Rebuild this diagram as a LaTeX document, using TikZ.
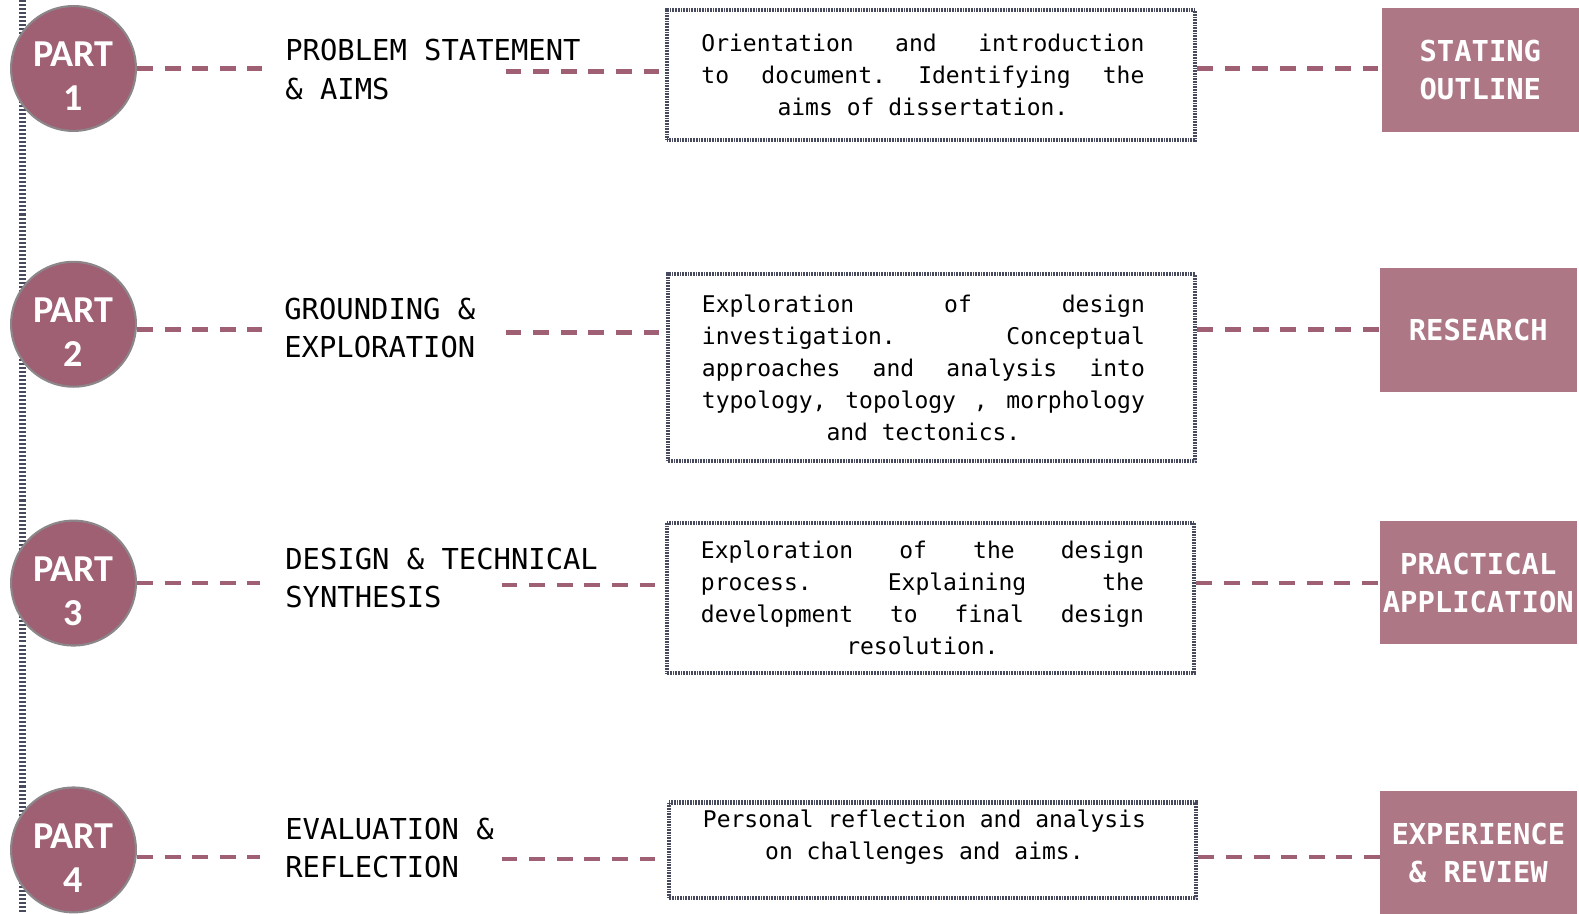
\documentclass[tikz,border=0pt]{standalone}
\usepackage{fontspec}
\setmainfont{DejaVu Sans Mono}
\newfontfamily\partfont{Carlito}
\usetikzlibrary{positioning}

\definecolor{plum}{RGB}{158,96,114}
\definecolor{plumlight}{RGB}{173,119,134}
\definecolor{rimgray}{RGB}{140,134,138}
\definecolor{hatch}{RGB}{70,74,92}

% one line of a box, spread over the full width / centred
\newlength{\boxtext}
\setlength{\boxtext}{8.8cm}
\newcommand{\fullline}[1]{\hbox to \linewidth{\hbox to \boxtext{\spaceskip=0.602em plus 1fil\xspaceskip=0.602em plus 1fil\relax#1}\hfil}}
\newcommand{\midline}[1]{\hbox to \linewidth{\hbox to \boxtext{\spaceskip=0.602em\xspaceskip=0.602em\relax\hfil#1\hfil}\hfil}}

\begin{document}
\begin{tikzpicture}[x=0.02cm, y=-0.02cm,
	part/.style={circle, fill=plum, draw=rimgray, line width=1.2pt, minimum size=2.48cm, inner sep=0pt,
		text=white, align=center, font=\partfont\bfseries\fontsize{21.5}{25}\selectfont},
	heading/.style={anchor=west, inner sep=0pt, align=left, font=\fontsize{16.3}{21.5}\selectfont},
	summary/.style={draw=hatch, line width=2.4pt, dash pattern=on 0.45pt off 0.45pt,
		minimum width=10.48cm, text width=9.12cm, inner sep=0pt, font=\fontsize{13}{18.1}\selectfont},
	theme/.style={fill=plumlight, text=white, minimum width=3.92cm, minimum height=2.46cm, inner sep=0pt,
		align=center, font=\bfseries\fontsize{16.3}{21.5}\selectfont},
	link/.style={plum, line width=2.6pt, dash pattern=on 9pt off 6.6pt}]

	\useasboundingbox (0,0) rectangle (1568,907);
	% ladder line down the left edge
	\foreach \k in {0,...,226}
		\fill[hatch] (19,4*\k) rectangle (26,4*\k+2);

	% part 1
	\node[part] (p1) at (73,68) {\rule{0pt}{23pt}PART\\1};
	\node[heading] (h1) at (283,69) {PROBLEM STATEMENT\\\& AIMS};
	\node[summary, minimum height=2.58cm] (s1) at (924.5,74.5) {%
		\fullline{Orientation and introduction}
		\fullline{to document. Identifying the}
		\midline{aims of dissertation.}};
	\node[theme] (t1) at (1470,69.5) {STATING\\OUTLINE};
	\coordinate (a1) at (260,68);
	\coordinate (b1) at (502,71);
	\coordinate (c1) at (1372,68);

	% part 2
	\node[part] (p2) at (73,322) {\rule{0pt}{23pt}PART\\2};
	\node[heading] (h2) at (282,326) {GROUNDING \&\\EXPLORATION};
	\node[summary, minimum height=3.72cm] (s2) at (925,365) {%
		\fullline{Exploration of design}
		\fullline{investigation. Conceptual}
		\fullline{approaches and analysis into}
		\fullline{typology, topology , morphology}
		\midline{and tectonics.}};
	\node[theme] (t2) at (1468,327.5) {RESEARCH};
	\coordinate (a2) at (260,327);
	\coordinate (b2) at (502,330);
	\coordinate (c2) at (1370,327);

	% part 3
	\node[part] (p3) at (73,579) {\rule{0pt}{23pt}PART\\3};
	\node[heading] (h3) at (283,573.5) {DESIGN \& TECHNICAL\\SYNTHESIS};
	\node[summary, minimum height=2.98cm] (s3) at (924,593.5) {%
		\fullline{Exploration of the design}
		\fullline{process. Explaining the}
		\fullline{development to final design}
		\midline{resolution.}};
	\node[theme] (t3) at (1468,578.5) {PRACTICAL\\APPLICATION};
	\coordinate (a3) at (258,579);
	\coordinate (b3) at (498,581);
	\coordinate (c3) at (1370,579);

	% part 4
	\node[part] (p4) at (73,844) {\rule{0pt}{23pt}PART\\4};
	\node[heading] (h4) at (283,842.5) {EVALUATION \&\\REFLECTION};
	\node[summary, minimum height=1.9cm] (s4) at (926,844.5) {%
		\midline{Personal reflection and analysis}
		\midline{on challenges and aims.}
		\hbox{}};
	\node[theme] (t4) at (1468,847) {EXPERIENCE\\\& REVIEW};
	\coordinate (a4) at (258,851);
	\coordinate (b4) at (498,853);
	\coordinate (c4) at (1370,851);

	\foreach \i in {1,2,3,4} {
		\draw[link] (p\i.east |- a\i) -- (a\i);
		\draw[link] (b\i) -- (b\i -| s\i.west);
		\draw[link] (s\i.east |- c\i) -- (c\i);
	}
\end{tikzpicture}
\end{document}
